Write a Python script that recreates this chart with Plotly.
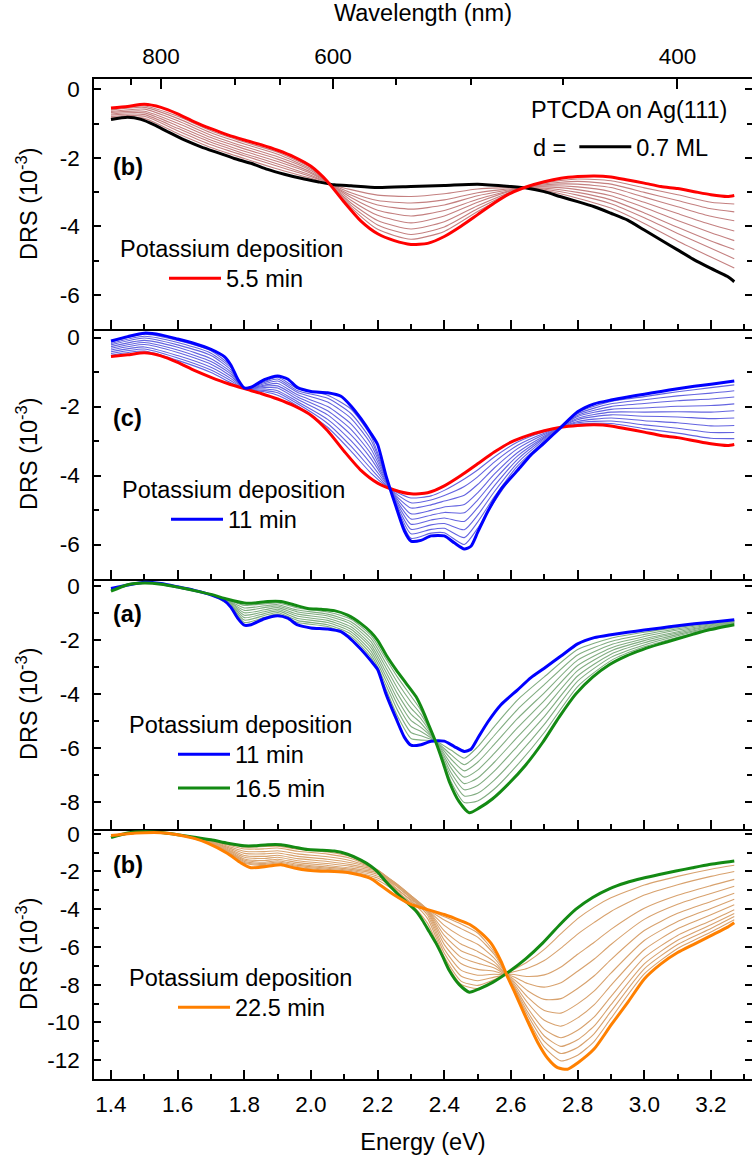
import plotly.graph_objects as go
from plotly.subplots import make_subplots

# ---------------------------------------------------------------- data
# DRS in units of 1e-3, photon energy in eV
# 0.7 ML PTCDA on Ag(111), before potassium (black)
E_k0 = [1.40, 1.45, 1.49, 1.53, 1.57, 1.62, 1.67, 1.72, 1.77, 1.82, 1.87, 1.92, 1.97, 2.02,
        2.07, 2.12, 2.20, 2.30, 2.40, 2.50, 2.60, 2.65, 2.70, 2.75, 2.80, 2.85, 2.90, 2.95,
        3.00, 3.05, 3.10, 3.15, 3.20, 3.25, 3.27]
DRS_k0 = [-0.88, -0.82, -0.88, -1.04, -1.24, -1.48, -1.68, -1.85, -2.02, -2.16, -2.34, -2.48,
          -2.60, -2.70, -2.79, -2.82, -2.87, -2.84, -2.81, -2.77, -2.84, -2.89, -2.99, -3.14,
          -3.28, -3.43, -3.62, -3.82, -4.11, -4.40, -4.69, -4.98, -5.23, -5.47, -5.62]

# 5.5 min potassium (red)
E_k55 = [1.40, 1.45, 1.50, 1.55, 1.60, 1.65, 1.70, 1.75, 1.80, 1.85, 1.90, 1.95, 2.00, 2.05,
         2.10, 2.15, 2.20, 2.25, 2.30, 2.35, 2.40, 2.45, 2.50, 2.55, 2.60, 2.65, 2.70, 2.75,
         2.80, 2.85, 2.90, 2.95, 3.00, 3.05, 3.10, 3.15, 3.20, 3.25, 3.27]
DRS_k55 = [-0.55, -0.50, -0.44, -0.53, -0.72, -0.95, -1.15, -1.33, -1.48, -1.62, -1.78, -1.98,
           -2.25, -2.70, -3.30, -3.85, -4.22, -4.42, -4.53, -4.50, -4.30, -4.00, -3.66, -3.32,
           -3.03, -2.84, -2.70, -2.60, -2.55, -2.53, -2.56, -2.65, -2.74, -2.84, -2.90, -2.99,
           -3.08, -3.13, -3.10]

# 11 min potassium (blue)
E_k11 = [1.40, 1.45, 1.50, 1.55, 1.60, 1.65, 1.70, 1.74, 1.76, 1.78, 1.80, 1.82, 1.86, 1.90,
         1.93, 1.96, 2.00, 2.05, 2.09, 2.12, 2.15, 2.18, 2.20, 2.225, 2.255, 2.28, 2.30, 2.33,
         2.36, 2.40, 2.43, 2.46, 2.48, 2.50, 2.53, 2.57, 2.62, 2.66, 2.70, 2.75, 2.80, 2.85,
         2.90, 2.95, 3.00, 3.05, 3.10, 3.15, 3.20, 3.27]
DRS_k11 = [-0.10, 0.03, 0.13, 0.08, -0.04, -0.17, -0.34, -0.55, -0.80, -1.20, -1.46, -1.44,
           -1.22, -1.11, -1.20, -1.45, -1.56, -1.60, -1.70, -1.98, -2.35, -2.78, -3.10, -4.00,
           -4.90, -5.60, -5.90, -5.88, -5.75, -5.75, -5.95, -6.13, -6.05, -5.65, -5.05, -4.40,
           -3.85, -3.40, -3.05, -2.60, -2.15, -1.92, -1.81, -1.72, -1.64, -1.56, -1.48, -1.41,
           -1.35, -1.26]

# 16.5 min potassium (green)
E_k165 = [1.40, 1.45, 1.50, 1.55, 1.60, 1.65, 1.70, 1.75, 1.80, 1.83, 1.87, 1.91, 1.95, 1.99,
          2.03, 2.07, 2.11, 2.15, 2.18, 2.20, 2.225, 2.255, 2.285, 2.315, 2.335, 2.355, 2.375,
          2.395, 2.415, 2.445, 2.475, 2.505, 2.545, 2.595, 2.645, 2.695, 2.745, 2.795, 2.845,
          2.895, 2.945, 2.995, 3.045, 3.095, 3.145, 3.195, 3.27]
DRS_k165 = [-0.20, 0.04, 0.10, 0.06, -0.05, -0.18, -0.32, -0.50, -0.64, -0.64, -0.58, -0.58,
            -0.71, -0.84, -0.87, -0.92, -1.09, -1.40, -1.72, -2.02, -2.55, -3.10, -3.60, -4.10,
            -4.60, -5.20, -5.80, -6.50, -7.25, -8.00, -8.40, -8.22, -7.88, -7.30, -6.62, -5.80,
            -4.85, -4.00, -3.38, -2.92, -2.60, -2.36, -2.16, -1.98, -1.80, -1.63, -1.44]

# 22.5 min potassium (orange)
E_k225 = [1.40, 1.45, 1.50, 1.55, 1.60, 1.65, 1.69, 1.75, 1.79, 1.82, 1.87, 1.91, 1.95, 1.99,
          2.03, 2.07, 2.11, 2.15, 2.18, 2.20, 2.25, 2.30, 2.35, 2.40, 2.45, 2.48, 2.51, 2.54,
          2.57, 2.59, 2.61, 2.64, 2.68, 2.71, 2.74, 2.77, 2.80, 2.85, 2.90, 2.95, 3.00, 3.05,
          3.10, 3.15, 3.20, 3.25, 3.27]
DRS_k225 = [-0.10, 0.00, 0.05, 0.05, -0.05, -0.25, -0.50, -1.05, -1.55, -1.80, -1.73, -1.65,
            -1.82, -1.94, -1.99, -2.00, -2.05, -2.20, -2.38, -2.62, -3.25, -3.75, -4.02, -4.28,
            -4.62, -4.85, -5.25, -5.80, -6.75, -7.60, -8.35, -9.55, -11.05, -11.90, -12.40,
            -12.48, -12.15, -11.40, -10.15, -8.95, -7.70, -6.90, -6.30, -5.85, -5.40, -4.95, -4.72]

# intermediate spectra, panel 1 (0 -> 5.5 min)
E_p1 = [1.40, 1.50, 1.60, 1.70, 1.80, 1.90, 2.00, 2.05, 2.12, 2.20, 2.30, 2.40, 2.50, 2.63,
        2.70, 2.80, 2.90, 3.00, 3.10, 3.20, 3.27]
p1_1 = [-0.83, -0.85, -1.29, -1.70, -2.02, -2.33, -2.60, -2.75, -2.93, -3.09, -3.13, -3.05, -2.91, -2.87, -2.95, -3.18, -3.47, -3.92, -4.43, -4.90, -5.22]
p1_2 = [-0.79, -0.79, -1.21, -1.62, -1.94, -2.25, -2.55, -2.74, -3.02, -3.25, -3.32, -3.23, -3.02, -2.88, -2.92, -3.09, -3.34, -3.75, -4.21, -4.64, -4.95]
p1_3 = [-0.75, -0.74, -1.14, -1.55, -1.88, -2.18, -2.51, -2.74, -3.09, -3.38, -3.50, -3.38, -3.11, -2.89, -2.89, -3.01, -3.23, -3.61, -4.03, -4.43, -4.68]
p1_4 = [-0.72, -0.69, -1.07, -1.48, -1.81, -2.11, -2.46, -2.73, -3.16, -3.53, -3.70, -3.54, -3.21, -2.89, -2.85, -2.93, -3.11, -3.45, -3.83, -4.19, -4.42]
p1_5 = [-0.68, -0.64, -0.99, -1.41, -1.74, -2.04, -2.42, -2.72, -3.24, -3.68, -3.90, -3.70, -3.30, -2.89, -2.82, -2.85, -2.99, -3.30, -3.63, -3.95, -4.14]
p1_6 = [-0.65, -0.58, -0.92, -1.34, -1.67, -1.97, -2.37, -2.72, -3.32, -3.83, -4.08, -3.87, -3.40, -2.90, -2.79, -2.77, -2.87, -3.15, -3.43, -3.71, -3.84]
p1_7 = [-0.61, -0.53, -0.85, -1.27, -1.60, -1.90, -2.33, -2.71, -3.39, -3.96, -4.24, -4.02, -3.49, -2.90, -2.76, -2.69, -2.77, -3.01, -3.25, -3.49, -3.58]
p1_8 = [-0.58, -0.49, -0.79, -1.21, -1.54, -1.84, -2.29, -2.71, -3.45, -4.09, -4.38, -4.15, -3.57, -2.90, -2.73, -2.62, -2.67, -2.88, -3.08, -3.30, -3.35]

# intermediate spectra, panel 2 (5.5 -> 11 min)
E_p2 = [1.40, 1.50, 1.60, 1.70, 1.76, 1.80, 1.86, 1.90, 1.96, 2.05, 2.12, 2.18, 2.225, 2.26,
        2.30, 2.36, 2.40, 2.46, 2.50, 2.55, 2.62, 2.70, 2.80, 2.90, 3.00, 3.10, 3.20, 3.27]
p2_1 = [-0.51, -0.39, -0.66, -1.01, -1.31, -1.48, -1.57, -1.67, -1.98, -2.60, -3.29, -3.93, -4.30, -4.50, -4.65, -4.59, -4.43, -4.10, -3.84, -3.46, -3.03, -2.73, -2.51, -2.49, -2.64, -2.77, -2.92, -2.93]
p2_2 = [-0.46, -0.33, -0.59, -0.94, -1.25, -1.48, -1.53, -1.60, -1.92, -2.49, -3.15, -3.80, -4.27, -4.56, -4.79, -4.71, -4.58, -4.32, -4.04, -3.61, -3.12, -2.77, -2.47, -2.42, -2.53, -2.63, -2.75, -2.75]
p2_3 = [-0.41, -0.27, -0.52, -0.86, -1.19, -1.47, -1.49, -1.54, -1.86, -2.37, -2.99, -3.66, -4.23, -4.63, -4.94, -4.85, -4.74, -4.57, -4.26, -3.78, -3.22, -2.81, -2.43, -2.33, -2.41, -2.47, -2.56, -2.55]
p2_4 = [-0.36, -0.20, -0.43, -0.77, -1.12, -1.47, -1.45, -1.46, -1.79, -2.24, -2.82, -3.51, -4.19, -4.70, -5.11, -5.01, -4.91, -4.84, -4.50, -3.96, -3.33, -2.85, -2.38, -2.24, -2.28, -2.30, -2.35, -2.33]
p2_5 = [-0.31, -0.14, -0.36, -0.69, -1.06, -1.47, -1.41, -1.40, -1.72, -2.12, -2.66, -3.37, -4.16, -4.77, -5.26, -5.15, -5.07, -5.08, -4.71, -4.13, -3.43, -2.89, -2.34, -2.16, -2.16, -2.15, -2.16, -2.12]
p2_6 = [-0.26, -0.08, -0.28, -0.61, -1.00, -1.47, -1.38, -1.33, -1.66, -2.00, -2.50, -3.23, -4.12, -4.83, -5.41, -5.29, -5.23, -5.33, -4.93, -4.30, -3.53, -2.92, -2.29, -2.08, -2.04, -1.99, -1.97, -1.92]
p2_7 = [-0.21, -0.01, -0.21, -0.52, -0.94, -1.47, -1.34, -1.26, -1.59, -1.87, -2.34, -3.09, -4.08, -4.90, -5.56, -5.43, -5.39, -5.57, -5.15, -4.47, -3.63, -2.96, -2.25, -2.00, -1.91, -1.83, -1.78, -1.72]
p2_8 = [-0.17, 0.04, -0.14, -0.45, -0.88, -1.46, -1.30, -1.20, -1.54, -1.76, -2.20, -2.97, -4.05, -4.96, -5.69, -5.56, -5.53, -5.80, -5.35, -4.62, -3.72, -3.00, -2.21, -1.92, -1.80, -1.69, -1.61, -1.54]
p2_9 = [-0.13, 0.10, -0.08, -0.38, -0.83, -1.46, -1.27, -1.15, -1.48, -1.67, -2.07, -2.86, -4.02, -5.01, -5.82, -5.67, -5.66, -6.00, -5.53, -4.76, -3.80, -3.03, -2.17, -1.85, -1.71, -1.57, -1.45, -1.37]

# intermediate spectra, panel 3 (11 -> 16.5 min)
E_p3 = [1.40, 1.45, 1.50, 1.60, 1.70, 1.76, 1.80, 1.86, 1.90, 1.96, 2.05, 2.12, 2.18, 2.225,
        2.26, 2.30, 2.33, 2.375, 2.42, 2.46, 2.50, 2.55, 2.62, 2.70, 2.80, 2.90, 3.00, 3.10,
        3.20, 3.27]
p3_1 = [-0.11, 0.03, 0.13, -0.04, -0.34, -0.77, -1.36, -1.17, -1.05, -1.36, -1.51, -1.88, -2.65, -3.83, -4.83, -5.65, -5.71, -5.75, -6.08, -6.38, -5.96, -5.21, -4.22, -3.37, -2.36, -1.94, -1.72, -1.54, -1.38, -1.28]
p3_2 = [-0.12, 0.03, 0.12, -0.04, -0.34, -0.74, -1.27, -1.10, -0.99, -1.29, -1.44, -1.79, -2.54, -3.67, -4.62, -5.43, -5.55, -5.76, -6.25, -6.62, -6.25, -5.54, -4.57, -3.66, -2.56, -2.06, -1.80, -1.59, -1.41, -1.30]
p3_3 = [-0.13, 0.03, 0.12, -0.04, -0.33, -0.71, -1.18, -1.03, -0.93, -1.21, -1.36, -1.70, -2.42, -3.51, -4.41, -5.20, -5.39, -5.77, -6.41, -6.85, -6.53, -5.87, -4.91, -3.96, -2.75, -2.18, -1.88, -1.64, -1.44, -1.32]
p3_4 = [-0.14, 0.03, 0.12, -0.04, -0.33, -0.68, -1.09, -0.96, -0.87, -1.13, -1.28, -1.61, -2.30, -3.35, -4.21, -4.98, -5.24, -5.77, -6.58, -7.08, -6.82, -6.20, -5.25, -4.25, -2.95, -2.30, -1.96, -1.70, -1.47, -1.34]
p3_5 = [-0.16, 0.04, 0.11, -0.05, -0.33, -0.65, -1.00, -0.89, -0.81, -1.05, -1.20, -1.52, -2.19, -3.19, -4.00, -4.75, -5.08, -5.78, -6.74, -7.32, -7.11, -6.53, -5.59, -4.55, -3.14, -2.41, -2.03, -1.75, -1.50, -1.36]
p3_6 = [-0.17, 0.04, 0.11, -0.05, -0.33, -0.63, -0.91, -0.81, -0.75, -0.97, -1.12, -1.42, -2.07, -3.03, -3.80, -4.53, -4.92, -5.78, -6.91, -7.55, -7.39, -6.86, -5.93, -4.84, -3.34, -2.53, -2.11, -1.80, -1.53, -1.38]
p3_7 = [-0.18, 0.04, 0.11, -0.05, -0.32, -0.60, -0.82, -0.74, -0.70, -0.90, -1.05, -1.33, -1.95, -2.87, -3.59, -4.30, -4.76, -5.79, -7.07, -7.78, -7.68, -7.19, -6.28, -5.13, -3.53, -2.65, -2.19, -1.85, -1.56, -1.40]
p3_8 = [-0.19, 0.04, 0.10, -0.05, -0.32, -0.57, -0.73, -0.67, -0.64, -0.82, -0.97, -1.24, -1.84, -2.71, -3.39, -4.08, -4.61, -5.79, -7.24, -8.02, -7.96, -7.52, -6.62, -5.43, -3.73, -2.77, -2.26, -1.91, -1.59, -1.42]

# intermediate spectra, panel 4 (16.5 -> 22.5 min)
E_p4 = [1.40, 1.50, 1.60, 1.70, 1.76, 1.80, 1.86, 1.90, 1.96, 2.05, 2.12, 2.20, 2.25, 2.30,
        2.35, 2.40, 2.45, 2.50, 2.55, 2.60, 2.65, 2.70, 2.75, 2.80, 2.85, 2.90, 3.00, 3.10,
        3.20, 3.27]
p4_1 = [-0.19, 0.10, -0.05, -0.34, -0.58, -0.71, -0.68, -0.66, -0.82, -0.97, -1.22, -2.00, -2.90, -3.70, -4.75, -6.65, -7.98, -8.20, -7.82, -7.29, -6.79, -6.13, -5.30, -4.50, -3.89, -3.40, -2.72, -2.26, -1.88, -1.67]
p4_2 = [-0.18, 0.09, -0.05, -0.36, -0.64, -0.81, -0.80, -0.76, -0.93, -1.08, -1.31, -1.95, -2.80, -3.55, -4.50, -6.53, -7.81, -8.04, -7.73, -7.36, -7.13, -6.72, -6.06, -5.32, -4.70, -4.12, -3.25, -2.70, -2.26, -2.00]
p4_3 = [-0.17, 0.09, -0.05, -0.39, -0.72, -0.93, -0.95, -0.90, -1.07, -1.22, -1.43, -1.92, -2.70, -3.42, -4.32, -6.34, -7.54, -7.79, -7.60, -7.45, -7.57, -7.48, -7.06, -6.39, -5.75, -5.07, -3.95, -3.26, -2.75, -2.42]
p4_4 = [-0.16, 0.08, -0.05, -0.42, -0.79, -1.04, -1.07, -1.02, -1.20, -1.35, -1.54, -1.92, -2.62, -3.35, -4.20, -6.12, -7.23, -7.50, -7.45, -7.53, -7.94, -8.13, -7.90, -7.29, -6.64, -5.87, -4.54, -3.74, -3.17, -2.78]
p4_5 = [-0.15, 0.07, -0.05, -0.44, -0.86, -1.15, -1.20, -1.14, -1.32, -1.47, -1.64, -1.95, -2.58, -3.30, -4.12, -5.88, -6.88, -7.19, -7.29, -7.61, -8.32, -8.78, -8.74, -8.20, -7.53, -6.67, -5.13, -4.22, -3.59, -3.15]
p4_6 = [-0.14, 0.07, -0.05, -0.47, -0.92, -1.25, -1.31, -1.25, -1.43, -1.58, -1.73, -2.00, -2.56, -3.28, -4.07, -5.64, -6.54, -6.87, -7.12, -7.68, -8.66, -9.37, -9.51, -9.02, -8.33, -7.39, -5.66, -4.65, -3.96, -3.47]
p4_7 = [-0.13, 0.06, -0.05, -0.49, -0.97, -1.34, -1.42, -1.35, -1.53, -1.68, -1.82, -2.07, -2.58, -3.28, -4.04, -5.39, -6.20, -6.55, -6.96, -7.74, -8.96, -9.89, -10.20, -9.76, -9.06, -8.04, -6.15, -5.04, -4.30, -3.77]
p4_8 = [-0.12, 0.06, -0.05, -0.51, -1.02, -1.41, -1.51, -1.43, -1.62, -1.77, -1.89, -2.15, -2.62, -3.32, -4.02, -5.15, -5.85, -6.24, -6.79, -7.80, -9.24, -10.37, -10.81, -10.42, -9.71, -8.63, -6.57, -5.39, -4.61, -4.03]
p4_9 = [-0.12, 0.06, -0.05, -0.52, -1.06, -1.47, -1.58, -1.50, -1.68, -1.83, -1.95, -2.25, -2.70, -3.40, -4.02, -4.86, -5.44, -5.86, -6.60, -7.84, -9.44, -10.72, -11.27, -10.92, -10.19, -9.06, -6.90, -5.65, -4.83, -4.23]
p4_10 = [-0.11, 0.06, -0.05, -0.54, -1.09, -1.52, -1.64, -1.55, -1.74, -1.89, -2.00, -2.35, -2.85, -3.50, -4.02, -4.57, -5.03, -5.48, -6.40, -7.88, -9.61, -11.01, -11.65, -11.33, -10.59, -9.42, -7.16, -5.87, -5.02, -4.39]
p4_11 = [-0.11, 0.05, -0.05, -0.55, -1.12, -1.57, -1.69, -1.61, -1.79, -1.94, -2.04, -2.45, -3.00, -3.62, -4.02, -4.40, -4.79, -5.26, -6.28, -7.91, -9.78, -11.31, -12.04, -11.74, -11.00, -9.79, -7.43, -6.08, -5.21, -4.56]

# tick definitions
energy_major = [1.4, 1.6, 1.8, 2.0, 2.2, 2.4, 2.6, 2.8, 3.0, 3.2]
energy_minor = [1.5, 1.7, 1.9, 2.1, 2.3, 2.5, 2.7, 2.9, 3.1, 3.3]
wl_major = [800, 600, 400]
wl_minor = [850, 700, 650, 550, 500, 450]
HC = 1239.84  # eV nm

# ---------------------------------------------------------------- style
FONT = "Liberation Sans, Arial, Helvetica, sans-serif"
C_BLACK = "#000000"
C_RED = "#ff0000"
C_BLUE = "#0000ff"
C_GREEN = "#138a13"
C_ORANGE = "#ff8000"
M_RED = "#c48080"
M_BLUE = "#6464e0"
M_GREEN = "#82ad82"
M_ORANGE = "#d8a26e"
W_END = 3.0
W_MID = 1.1
TXT = 23.5
TICK = 22.5

fig = make_subplots(rows=4, cols=1, shared_xaxes=True, vertical_spacing=0)


def line(row, x, y, color, width, name=None, legend=None, show=False):
    fig.add_trace(go.Scatter(x=x, y=y, mode="lines", name=name, legend=legend,
                             showlegend=show, hoverinfo="skip",
                             line=dict(color=color, width=width, shape="spline", smoothing=0.6)),
                  row=row, col=1)


# panel 1
for s in [p1_1, p1_2, p1_3, p1_4, p1_5, p1_6, p1_7, p1_8]:
    line(1, E_p1, s, M_RED, W_MID)
line(1, E_k0, DRS_k0, C_BLACK, W_END, "0.7 ML", "legend5", True)
line(1, E_k55, DRS_k55, C_RED, W_END, "5.5 min", "legend", True)
# panel 2
for s in [p2_1, p2_2, p2_3, p2_4, p2_5, p2_6, p2_7, p2_8, p2_9]:
    line(2, E_p2, s, M_BLUE, W_MID)
line(2, E_k55, DRS_k55, C_RED, W_END)
line(2, E_k11, DRS_k11, C_BLUE, W_END, "11 min", "legend2", True)
# panel 3
for s in [p3_1, p3_2, p3_3, p3_4, p3_5, p3_6, p3_7, p3_8]:
    line(3, E_p3, s, M_GREEN, W_MID)
line(3, E_k11, DRS_k11, C_BLUE, W_END, "11 min", "legend3", True)
line(3, E_k165, DRS_k165, C_GREEN, W_END, "16.5 min", "legend3", True)
# panel 4
for s in [p4_1, p4_2, p4_3, p4_4, p4_5, p4_6, p4_7, p4_8, p4_9, p4_10, p4_11]:
    line(4, E_p4, s, M_ORANGE, W_MID)
line(4, E_k165, DRS_k165, C_GREEN, W_END)
line(4, E_k225, DRS_k225, C_ORANGE, W_END, "22.5 min", "legend4", True)

# empty trace that carries the top wavelength axis
fig.add_trace(go.Scatter(x=[], y=[], xaxis="x5", yaxis="y", showlegend=False, hoverinfo="skip"))

X_RANGE = [1.349, 3.3232]
Y_RANGES = [[-7, 0.3], [-7, 0.25], [-9, 0.25], [-13, 0.25]]
Y_MAJOR = [[0, -2, -4, -6], [0, -2, -4, -6], [0, -2, -4, -6, -8],
           [0, -2, -4, -6, -8, -10, -12]]
Y_MINOR = [[-1, -3, -5, -7], [-1, -3, -5, -7], [-1, -3, -5, -7, -9],
           [-1, -3, -5, -7, -9, -11, -13]]

axis_common = dict(showline=True, linecolor="black", linewidth=1.5, ticks="inside",
                   tickcolor="black", tickwidth=1.5, showgrid=False, zeroline=False,
                   automargin=False, tickfont=dict(family=FONT, size=TICK, color="black"))

for r in range(1, 5):
    fig.update_xaxes(range=X_RANGE, tickmode="array", tickvals=energy_major,
                     ticktext=["%.1f" % v for v in energy_major], ticklen=9, mirror=False,
                     ticklabelstandoff=4,
                     minor=dict(tickmode="array", tickvals=energy_minor, ticklen=5,
                                ticks="inside", tickcolor="black", tickwidth=1.5),
                     row=r, col=1, **axis_common)
    fig.update_yaxes(range=Y_RANGES[r - 1], tickmode="array", tickvals=Y_MAJOR[r - 1],
                     ticktext=[str(v) for v in Y_MAJOR[r - 1]], ticklen=7, mirror="ticks",
                     ticklabelstandoff=8,
                     minor=dict(tickmode="array", tickvals=Y_MINOR[r - 1], ticklen=5,
                                ticks="inside", tickcolor="black", tickwidth=1.5),
                     row=r, col=1, **axis_common)

fig.update_xaxes(title=dict(text="Energy (eV)", font=dict(family=FONT, size=TXT), standoff=18),
                 row=4, col=1)

fig.update_layout(
    xaxis5=dict(overlaying="x", anchor="y", side="top", range=X_RANGE, tickmode="array",
                tickvals=[HC / w for w in wl_major], ticktext=[str(w) for w in wl_major],
                ticklen=10, ticklabelstandoff=4,
                minor=dict(tickmode="array", tickvals=[HC / w for w in wl_minor], ticklen=6,
                           ticks="inside", tickcolor="black", tickwidth=1.5),
                title=dict(text="Wavelength (nm)", font=dict(family=FONT, size=TXT), standoff=16),
                **axis_common),
)

# legends
leg_common = dict(bgcolor="rgba(0,0,0,0)", borderwidth=0, xanchor="left", yanchor="top",
                  font=dict(family=FONT, size=TXT, color="black"), itemwidth=52,
                  tracegroupgap=0, itemclick=False, itemdoubleclick=False)
pot_title = dict(text="Potassium deposition", side="top", font=dict(family=FONT, size=TXT))


def px2x(px):
    return (px - 94) / 658.0


def py2y(py):
    return 1 - (py - 79) / 1000.0


fig.update_layout(
    legend=dict(x=px2x(118), y=py2y(226), title=pot_title, indentation=46, **leg_common),
    legend2=dict(x=px2x(120), y=py2y(467), title=pot_title, indentation=46, **leg_common),
    legend3=dict(x=px2x(127), y=py2y(702), title=pot_title, indentation=46, **leg_common),
    legend4=dict(x=px2x(127), y=py2y(955), title=pot_title, indentation=46, **leg_common),
    legend5=dict(x=px2x(531), y=py2y(125), title=dict(text="d =", side="left",
                                                      font=dict(family=FONT, size=TXT)),
                 **leg_common),
)

annotations = [
    dict(text="PTCDA on Ag(111)", x=px2x(729), y=py2y(110), xanchor="right", yanchor="middle"),
    dict(text="<b>(b)</b>", x=px2x(111), y=py2y(167), xanchor="left", yanchor="middle"),
    dict(text="<b>(c)</b>", x=px2x(111), y=py2y(418), xanchor="left", yanchor="middle"),
    dict(text="<b>(a)</b>", x=px2x(111), y=py2y(614), xanchor="left", yanchor="middle"),
    dict(text="<b>(b)</b>", x=px2x(111), y=py2y(865), xanchor="left", yanchor="middle"),
]
for cy in [204, 454, 704, 954]:
    annotations.append(dict(text="DRS (10<sup>-3</sup>)", x=px2x(27), y=py2y(cy), textangle=-90,
                            xanchor="center", yanchor="middle"))
for a in annotations:
    a.update(xref="paper", yref="paper", showarrow=False,
             font=dict(family=FONT, size=TXT, color="black"))

fig.update_layout(width=752, height=1160, margin=dict(l=94, r=0, t=79, b=81),
                  plot_bgcolor="white", paper_bgcolor="white",
                  font=dict(family=FONT, size=TICK, color="black"),
                  annotations=annotations, hovermode=False)

fig.write_html("out.html")
